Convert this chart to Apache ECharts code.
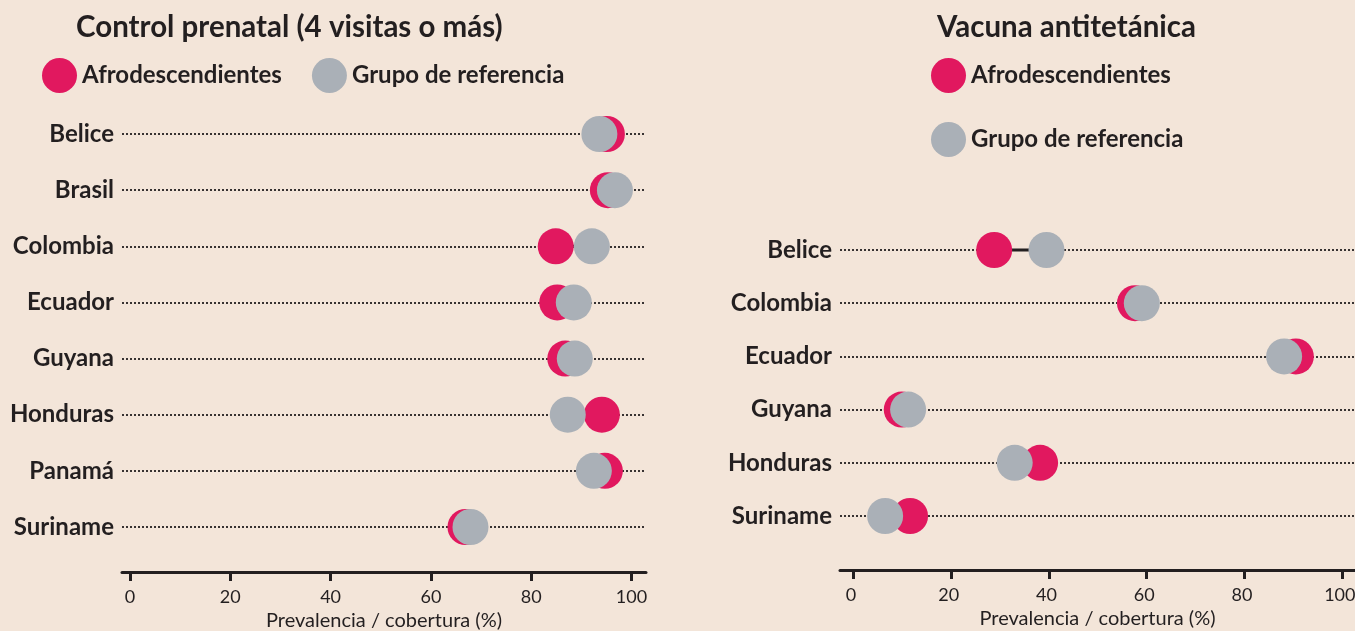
<!DOCTYPE html>
<html>
<head>
<meta charset="utf-8">
<script src="https://cdn.jsdelivr.net/npm/echarts@6/dist/echarts.min.js"></script>
<style>
  html, body { margin: 0; padding: 0; background: #F3E5D9; }
  #chart { width: 1355px; height: 631px; }
</style>
</head>
<body>
<div id="chart"></div>
<script>
// Control prenatal (4 visitas o más)
const prenatalCountries = ['Belice', 'Brasil', 'Colombia', 'Ecuador', 'Guyana', 'Honduras', 'Panamá', 'Suriname']
const prenatalAfro = [95.1, 95.3, 84.9, 85.2, 86.8, 94.1, 94.7, 66.9]
const prenatalRef = [93.6, 96.7, 92.1, 88.5, 88.7, 87.3, 92.5, 67.9]

// Vacuna antitetánica
const tetanosCountries = ['Belice', 'Colombia', 'Ecuador', 'Guyana', 'Honduras', 'Suriname']
const tetanosAfro = [28.8, 57.6, 90.5, 9.9, 38.2, 11.6]
const tetanosRef = [39.5, 59.0, 88.1, 11.2, 33.0, 6.5]

const xTicks = [0, 20, 40, 60, 80, 100]

const INK = '#231F20'
const RED = '#E1185F'
const GREY = '#AAB0B7'
const FONT = 'Lato'

function xAxisFor(gridIndex, min, max, offset, labelShift) {
    return {
        type: 'value',
        gridIndex: gridIndex,
        min: min,
        max: max,
        offset: offset,
        splitLine: { show: false },
        axisLine: { show: true, lineStyle: { color: INK, width: 3 } },
        axisTick: { show: true, customValues: xTicks, length: 9, lineStyle: { color: INK, width: 3 } },
        axisLabel: {
            customValues: xTicks, color: INK, fontFamily: FONT, fontSize: 18, margin: 16,
            padding: [0, labelShift, 0, 0]
        },
        name: 'Prevalencia / cobertura (%)',
        nameLocation: 'middle',
        nameGap: 39,
        nameTextStyle: { color: INK, fontFamily: FONT, fontSize: 20 }
    }
}

function yAxisFor(gridIndex, cats) {
    return {
        type: 'category',
        gridIndex: gridIndex,
        data: cats,
        inverse: true,
        boundaryGap: false,
        axisLine: { show: false },
        axisTick: { show: false },
        axisLabel: { color: INK, fontFamily: FONT, fontWeight: 'bold', fontSize: 24, margin: 8, interval: 0 },
        splitLine: { show: true, interval: 0, lineStyle: { color: INK, width: 1.8, type: [2, 2] } }
    }
}

function connector(idx, afro, ref) {
    // línea entre los dos puntos de cada país
    return {
        type: 'custom',
        xAxisIndex: idx,
        yAxisIndex: idx,
        silent: true,
        z: 1,
        data: afro.map((v, i) => [i, v, ref[i]]),
        renderItem(params, api) {
            const p1 = api.coord([api.value(1), api.value(0)])
            const p2 = api.coord([api.value(2), api.value(0)])
            return {
                type: 'line',
                shape: { x1: p1[0], y1: p1[1], x2: p2[0], y2: p2[1] },
                style: { stroke: INK, lineWidth: 3 }
            }
        }
    }
}

function dots(idx, name, values, color) {
    return {
        name: name,
        type: 'scatter',
        xAxisIndex: idx,
        yAxisIndex: idx,
        symbol: 'circle',
        symbolSize: 36,
        z: 3,
        itemStyle: { color: color, opacity: 1 },
        emphasis: { disabled: true },
        data: values.map((v, i) => [v, i])
    }
}

const legendText = { color: INK, fontFamily: FONT, fontWeight: 'bold', fontSize: 24 }
const titleText = { color: INK, fontFamily: FONT, fontWeight: 'bold', fontSize: 29.5 }

const chart = echarts.init(document.getElementById('chart'))
chart.setOption({
    animation: false,
    backgroundColor: '#F3E5D9',
    title: [{
        text: 'Control prenatal (4 visitas o más)',
        left: 71,
        top: 7,
        textStyle: titleText
    }, {
        text: 'Vacuna antitetánica',
        left: 932,
        top: 7,
        textStyle: titleText
    }],
    legend: [{
        left: 37,
        top: 53,
        icon: 'circle',
        itemWidth: 35,
        itemHeight: 35,
        itemGap: 30,
        selectedMode: false,
        textStyle: legendText,
        data: ['Afrodescendientes', 'Grupo de referencia']
    }, {
        left: 926,
        top: 53,
        orient: 'vertical',
        icon: 'circle',
        itemWidth: 35,
        itemHeight: 35,
        itemGap: 29,
        selectedMode: false,
        textStyle: legendText,
        data: ['Afrodescendientes', 'Grupo de referencia']
    }],
    grid: [
        { left: 122, right: 709, top: 134, height: 393, outerBoundsMode: 'none' },
        { left: 840, right: 0, top: 250, height: 266, outerBoundsMode: 'none' }
    ],
    xAxis: [
        xAxisFor(0, -1.6, 102.9, 45, 0),
        xAxisFor(1, -2.73, 102.6, 54, 5)
    ],
    yAxis: [
        yAxisFor(0, prenatalCountries),
        yAxisFor(1, tetanosCountries)
    ],
    series: [
        connector(0, prenatalAfro, prenatalRef),
        dots(0, 'Afrodescendientes', prenatalAfro, RED),
        dots(0, 'Grupo de referencia', prenatalRef, GREY),
        connector(1, tetanosAfro, tetanosRef),
        dots(1, 'Afrodescendientes', tetanosAfro, RED),
        dots(1, 'Grupo de referencia', tetanosRef, GREY)
    ]
})
</script>
</body>
</html>
